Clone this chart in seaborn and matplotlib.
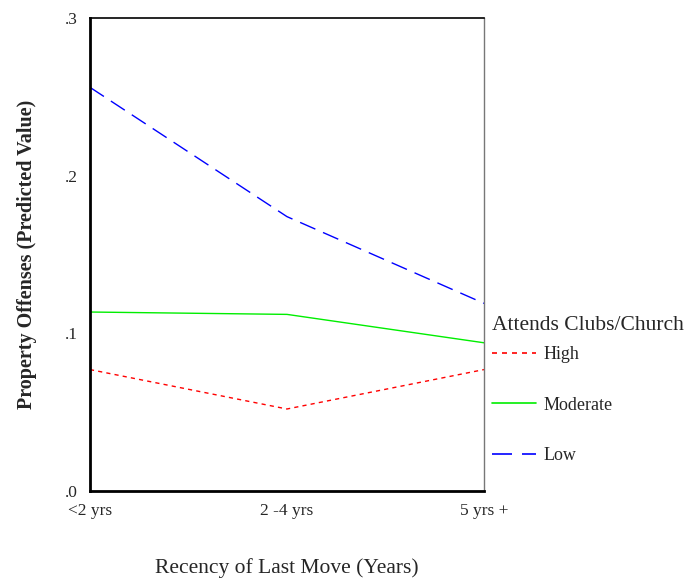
import matplotlib
matplotlib.use("Agg")
import matplotlib.pyplot as plt
import seaborn as sns
import pandas as pd
from matplotlib.lines import Line2D

categories = ["<2 yrs", "2 -4 yrs", "5 yrs +"]
high = [0.077, 0.052, 0.077]
moderate = [0.1135, 0.112, 0.094]
low = [0.256, 0.174, 0.119]
groups = ["High", "Moderate", "Low"]
yticks = [0.0, 0.1, 0.2, 0.3]
ytick_labels = [".0", ".1", ".2", ".3"]

sns.set_theme(style="white")
plt.rcParams["font.family"] = ["Liberation Serif", "DejaVu Serif"]

rows = []
for g, vals in zip(groups, [high, moderate, low]):
    for i, (c, v) in enumerate(zip(categories, vals)):
        rows.append({"Recency": i, "Value": v, "Group": g})
df = pd.DataFrame(rows)

palette = {"High": "#ff0000", "Moderate": "#00ee00", "Low": "#0000ff"}
dashes = {"High": (3, 3), "Moderate": "", "Low": (12, 6)}

fig = plt.figure(figsize=(6.9, 5.79), dpi=100)
ax = fig.add_axes([0.1304, 0.152, 0.571, 0.817])
sns.lineplot(data=df, x="Recency", y="Value", hue="Group", style="Group",
             palette=palette, dashes=dashes, ax=ax, legend=False, linewidth=1.0)

ax.set_xlim(0, 2)
ax.set_ylim(0, 0.3)
ax.set_xticks([0, 1, 2])
ax.set_xticklabels(categories, fontsize=12.5)
ax.set_yticks(yticks)
ax.set_yticklabels(ytick_labels, fontsize=12.5)
ax.tick_params(axis="both", direction="inout", length=4, width=2.5, color="#333333", pad=7)

for s in ["left", "bottom"]:
    ax.spines[s].set_linewidth(2.0)
    ax.spines[s].set_color("black")
ax.spines["top"].set_linewidth(1.2)
ax.spines["top"].set_color("black")
ax.spines["right"].set_linewidth(1.0)
ax.spines["right"].set_color("#777777")

ax.set_xlabel("Recency of Last Move (Years)", fontsize=15.5, labelpad=28)
ax.set_ylabel("Property Offenses (Predicted Value)", fontsize=14.5, fontweight="bold", labelpad=20)

handles = [Line2D([], [], color=palette[g], linewidth=1.2,
                  linestyle=(0, dashes[g]) if dashes[g] else "-") for g in groups]
leg = ax.legend(handles, groups, title="Attends Clubs/Church", loc="upper left",
                bbox_to_anchor=(1.012, 0.377), frameon=False, fontsize=13,
                title_fontsize=15.5, labelspacing=1.85, handlelength=2.4,
                handletextpad=0.45, borderaxespad=0, borderpad=0.2)
leg._legend_box.align = "left"
leg._legend_box.sep = 8

fig.savefig("out.png", dpi=100)
